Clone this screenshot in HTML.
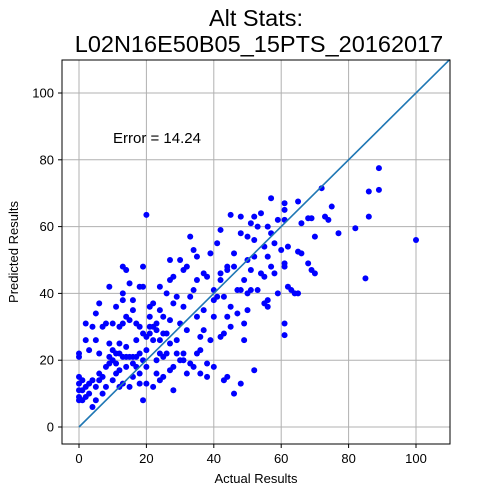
<!DOCTYPE html>
<html><head><meta charset="utf-8"><style>body{margin:0;background:#fff}svg{display:block;font-family:"Liberation Sans","DejaVu Sans",sans-serif}</style></head>
<body>
<svg id="chart" width="500" height="498">
<rect width="500" height="498" fill="#fff"/>
<text x="256" y="26" font-size="23.5" text-anchor="middle">Alt Stats:</text>
<text x="259" y="52" font-size="23.5" text-anchor="middle">L02N16E50B05_15PTS_20162017</text>
<g id="grid"></g>
<g id="ticks"></g>
<g id="pts"></g>
<line id="diag" stroke="#1f77b4" stroke-width="1.6"/>
<rect x="62" y="60" width="388" height="384" fill="none" stroke="#000" stroke-width="1"/>
<text x="113" y="143" font-size="15">Error = 14.24</text>
<text x="256" y="483" font-size="13" text-anchor="middle">Actual Results</text>
<text x="18" y="252" font-size="13" text-anchor="middle" transform="rotate(-90 18 252)">Predicted Results</text>
</svg>
<script>
const xTicks=[0,20,40,60,80,100];
const yTicks=[0,20,40,60,80,100];
const actual=[100,89,89,86,86,85,82,77,75,74,73,72,70,69,68,70,69,68,66,65,62,61,61,61,61,61,61,61,62,63,64,65,66,65,59,58,57,57,56,55,55,56,56,55,54,54,53,52,52,52,51,51,51,50,50,50,50,49,49,48,48,47,46,46,45,45,44,44,44,43,42,42,42,41,41,40,40,39,39,38,38,37,37,36,35,35,35,35,34,34,33,33,32,32,32,31,31,31,30,30,30,29,29,28,28,28,27,27,27,26,25,25,25,24,24,24,24,23,23,22,22,22,21,21,21,20,20,20,20,19,19,19,19,18,18,18,18,17,17,17,16,16,16,15,15,15,15,14,14,14,14,13,13,13,13,13,12,12,12,12,11,11,11,10,10,10,9,9,9,8,8,8,7,7,7,6,6,6,5,5,5,5,4,4,4,3,3,3,2,2,2,1,1,1,0,0,0,0,0,0,0,2,6,9,10,11,12,14,16,17,20,22,23,26,27,28,29,31,33,34,36,38,40,43,46,48,52,44,36,37,40,42,48,49,53,56,57,58,59,60,47,45,43,25,23,21,19,26,27,24,18,16,13];
const predicted=[56,77.5,71,70.5,63,44.5,59.5,58,66,62,63,71.5,57,62.5,62.5,46,47,49,52,52.5,54,67,65,62,49,48,31,27.5,42,41,40,40,61,67.5,62,55,68.5,58,60,54,45,38,36,37,46,64,60,63,56,51,61,47,41,57,50,40,35,31,26,63,58,41,48,52,36,63.5,48,47,33,39,59,44,27,39,55,33,38,52,26,45,15,46,29,23,51,44,33,22,53,41,57,39,48,29,16,47,36,20,50,31,20,26,39,37,45,18,44,32,25,28,33,21,15,35,26,22,14,31,20,30,37,26,28,33,36,63.5,27,23,18,48,42,20,8,30,22,16,13,31,26,21,35,19,15,43,32,21,12,47,33,24,18,48,38,31,21,13,30,25,17,12,36,22,16,31,23,14,42,25,21,31,18,12,30,15,10,37,22,14,34,26,12,8,30,14,6,23,13,10,31,12,9,14,11,8,22,21,15,13,11,9,8,26,16,19,20,19,22,21,21,18,13,12,16,22,17,11,22,22,19,18,16,19,18,14,10,13,17,15,27,35,41,46,41,44,41,51,48,46,40,53,34,30,28,28,29,30,28,40,50,42,42,38,40];
const X=v=>79+v*3.37, Y=v=>427-v*3.34;
const NS='http://www.w3.org/2000/svg';
const grid=document.getElementById('grid'), ticks=document.getElementById('ticks'), pts=document.getElementById('pts');
function mk(tag,attrs,parent){const e=document.createElementNS(NS,tag);for(const k in attrs)e.setAttribute(k,attrs[k]);parent.appendChild(e);return e;}
xTicks.forEach(t=>{
  const g=mk('line',{x1:X(t),x2:X(t),y1:60,y2:444,stroke:'#b0b0b0','stroke-width':1},grid);
  
  
  const tk=mk('line',{x1:X(t),x2:X(t),y1:444,y2:448,stroke:'#000'},ticks);
  
  
  const l=mk('text',{x:X(t),y:463,'font-size':13,'text-anchor':'middle'},ticks);
  l.textContent=t;
  
  
});
yTicks.forEach(t=>{
  const g=mk('line',{x1:62,x2:450,y1:Y(t),y2:Y(t),stroke:'#b0b0b0','stroke-width':1},grid);
  
  
  const tk=mk('line',{x1:58,x2:62,y1:Y(t),y2:Y(t),stroke:'#000'},ticks);
  
  
  const l=mk('text',{x:54,y:Y(t)+4.5,'font-size':13,'text-anchor':'end'},ticks);
  l.textContent=t;
  
  
});
actual.forEach((a,i)=>{
  const c=mk('circle',{cx:X(a),cy:Y(predicted[i]),r:3,fill:'#0000ff'},pts);
  
  
});
const d=document.getElementById('diag');
d.setAttribute('x1',X(0));d.setAttribute('y1',Y(0));d.setAttribute('x2',X(110));d.setAttribute('y2',Y(110));
</script>
</body></html>
